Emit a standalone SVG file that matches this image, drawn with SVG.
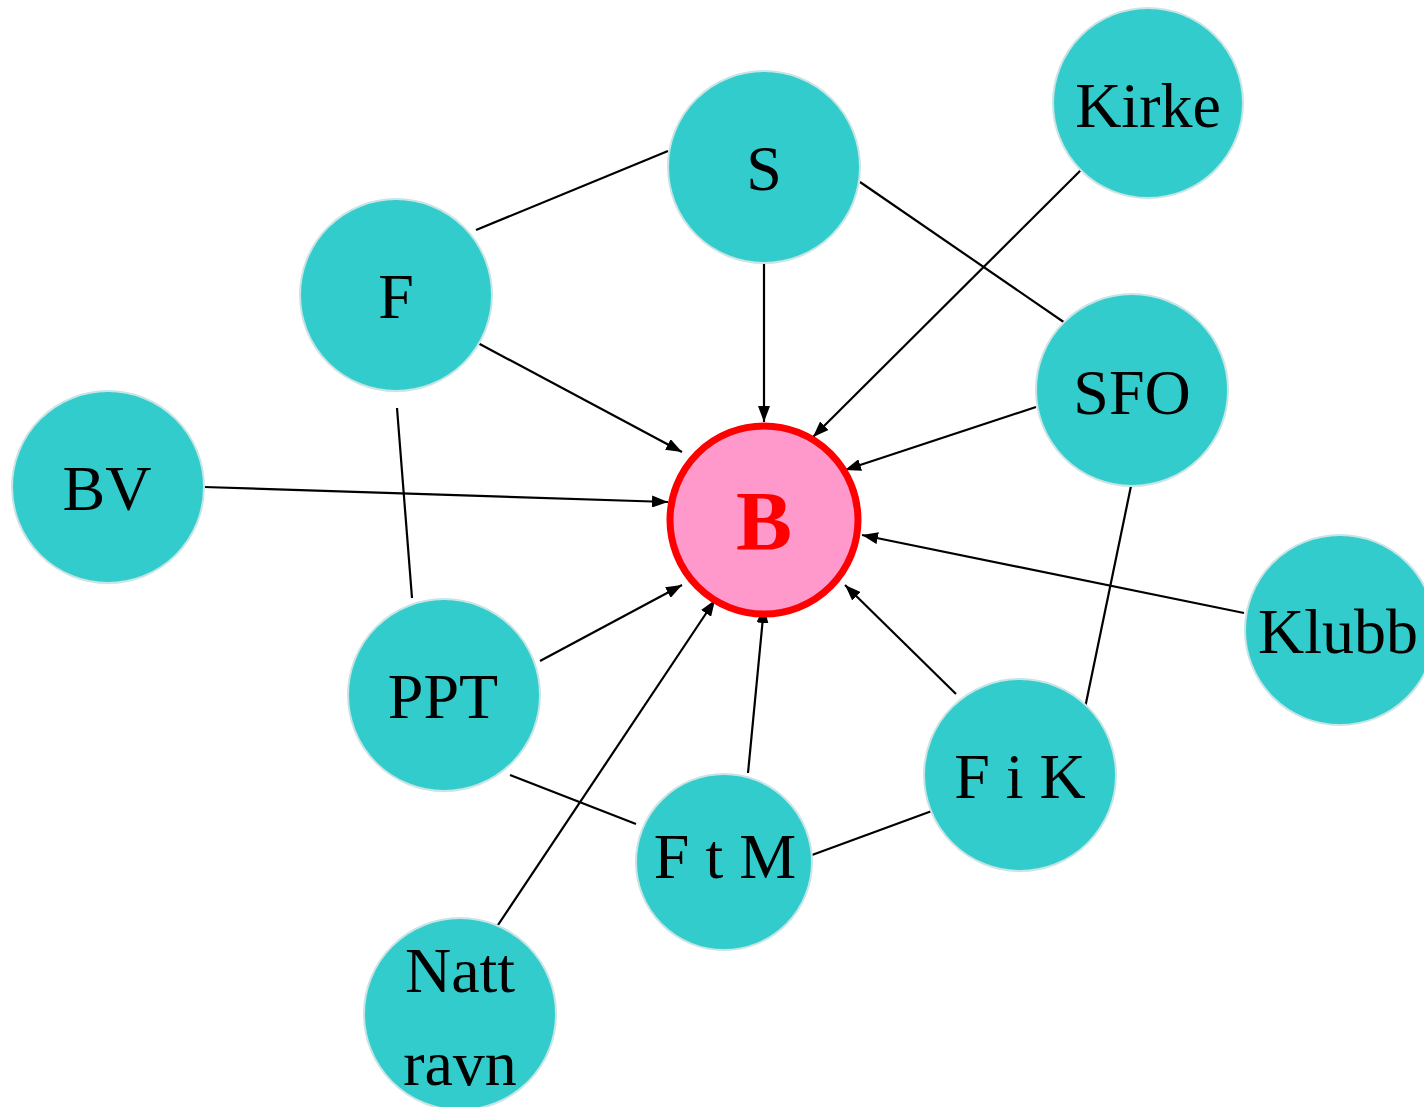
<svg xmlns="http://www.w3.org/2000/svg" width="1424" height="1107" viewBox="0 0 1424 1107">
<style>
.n{fill:#33CCCC;stroke:#C8E4E4;stroke-width:2}
.t{font-family:"Liberation Serif","Times New Roman",serif;font-size:64px;fill:#000;text-anchor:middle}
.c{stroke:#000;stroke-width:2.2;fill:none}
.a{marker-end:url(#ah)}
</style>
<defs>
<marker id="ah" viewBox="0 0 16 12" refX="16" refY="6" markerWidth="16" markerHeight="12" markerUnits="userSpaceOnUse" orient="auto">
<path d="M0,0 L16,6 L0,12 Z" fill="#000"/>
</marker>
</defs>
<rect width="1424" height="1107" fill="#fff"/>
<g id="connectors">
<line class="c" x1="668" y1="151" x2="476" y2="230"/>
<line class="c" x1="860" y1="182" x2="1068" y2="325"/>
<line class="c a" x1="764" y1="263" x2="764" y2="422"/>
<line class="c a" x1="1083" y1="168" x2="813" y2="437"/>
<line class="c a" x1="476" y1="342" x2="682" y2="452"/>
<line class="c a" x1="1036" y1="407" x2="845" y2="470"/>
<line class="c a" x1="204" y1="487" x2="668" y2="502"/>
<line class="c a" x1="1244" y1="613" x2="862" y2="535"/>
<line class="c a" x1="956" y1="694" x2="845" y2="585"/>
<line class="c a" x1="748" y1="773" x2="764" y2="607"/>
<line class="c a" x1="540" y1="661" x2="682" y2="585"/>
<line class="c a" x1="492" y1="934" x2="715" y2="600"/>
<line class="c" x1="397" y1="408" x2="412" y2="598"/>
<line class="c" x1="510" y1="775" x2="636" y2="824"/>
<line class="c" x1="812" y1="855" x2="940" y2="808"/>
<line class="c" x1="1131" y1="486" x2="1085" y2="708"/>
</g>
<g id="node-S"><circle class="n" cx="764" cy="167" r="96"/><text class="t" x="764" y="190">S</text></g>
<g id="node-Kirke"><circle class="n" cx="1148" cy="103" r="95"/><text class="t" x="1148" y="127">Kirke</text></g>
<g id="node-F"><circle class="n" cx="396" cy="295" r="96"/><text class="t" x="396" y="318">F</text></g>
<g id="node-SFO"><circle class="n" cx="1132" cy="390" r="96"/><text class="t" x="1132" y="414">SFO</text></g>
<g id="node-BV"><circle class="n" cx="108" cy="487" r="96"/><text class="t" x="107" y="510">BV</text></g>
<g id="node-B"><circle cx="764" cy="520" r="94" fill="#FF99CC" stroke="#FF0000" stroke-width="7"/><text x="764" y="550" text-anchor="middle" font-family="'Liberation Serif','Times New Roman',serif" font-size="84" font-weight="bold" fill="#FF0000">B</text></g>
<g id="node-Klubb"><circle class="n" cx="1340" cy="630" r="95"/><text class="t" x="1338" y="653">Klubb</text></g>
<g id="node-PPT"><circle class="n" cx="444" cy="695" r="96"/><text class="t" x="443" y="718">PPT</text></g>
<g id="node-FiK"><circle class="n" cx="1020" cy="775" r="96"/><text class="t" x="1020" y="798">F i K</text></g>
<g id="node-FtM"><circle class="n" cx="724" cy="862" r="88"/><text class="t" x="725" y="878">F t M</text></g>
<g id="node-Nattravn"><circle class="n" cx="460" cy="1014" r="96"/><text class="t" x="460" y="992">Natt</text><text class="t" x="460" y="1085">ravn</text></g>
</svg>
